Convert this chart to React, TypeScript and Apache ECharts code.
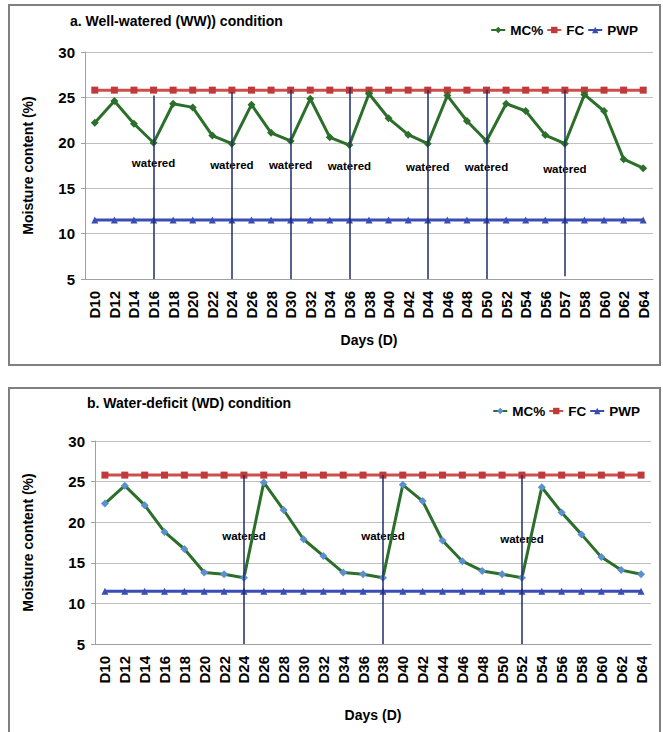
import React, { useEffect, useRef } from "react";
import * as echarts from "echarts";

// ---------- DATA ----------
const daysWW = ["D10","D12","D14","D16","D18","D20","D22","D24","D26","D28","D30","D32","D34","D36","D38","D40","D42","D44","D46","D48","D50","D52","D54","D56","D57","D58","D60","D62","D64"];
const mcWW = [22.2,24.6,22.1,20.0,24.3,23.9,20.8,19.9,24.2,21.1,20.2,24.85,20.6,19.75,25.4,22.7,20.9,19.9,25.2,22.4,20.2,24.3,23.5,20.85,19.9,25.3,23.5,18.2,17.2];
const fcWW = [25.8,25.8,25.8,25.8,25.8,25.8,25.8,25.8,25.8,25.8,25.8,25.8,25.8,25.8,25.8,25.8,25.8,25.8,25.8,25.8,25.8,25.8,25.8,25.8,25.8,25.8,25.8,25.8,25.8];
const pwpWW = [11.5,11.5,11.5,11.5,11.5,11.5,11.5,11.5,11.5,11.5,11.5,11.5,11.5,11.5,11.5,11.5,11.5,11.5,11.5,11.5,11.5,11.5,11.5,11.5,11.5,11.5,11.5,11.5,11.5];
const wateredWW = ["D16","D24","D30","D36","D44","D50","D57"];
const wateredWWTop = [25.2,25.6,25.85,26.1,25.85,25.85,25.85];
const wateredWWBottom = [5,5,5,5,5,5,5.3];
const wateredWWLabelY = [17.8,17.6,17.6,17.5,17.3,17.3,17.1];

const daysWD = ["D10","D12","D14","D16","D18","D20","D22","D24","D26","D28","D30","D32","D34","D36","D38","D40","D42","D44","D46","D48","D50","D52","D54","D56","D58","D60","D62","D64"];
const mcWD = [22.3,24.5,22.1,18.8,16.7,13.8,13.6,13.15,24.9,21.5,17.9,15.85,13.8,13.6,13.15,24.6,22.6,17.75,15.2,14.0,13.6,13.15,24.3,21.2,18.5,15.7,14.1,13.6];
const fcWD = [25.8,25.8,25.8,25.8,25.8,25.8,25.8,25.8,25.8,25.8,25.8,25.8,25.8,25.8,25.8,25.8,25.8,25.8,25.8,25.8,25.8,25.8,25.8,25.8,25.8,25.8,25.8,25.8];
const pwpWD = [11.5,11.5,11.5,11.5,11.5,11.5,11.5,11.5,11.5,11.5,11.5,11.5,11.5,11.5,11.5,11.5,11.5,11.5,11.5,11.5,11.5,11.5,11.5,11.5,11.5,11.5,11.5,11.5];
const wateredWD = ["D24","D38","D52"];
const wateredWDTop = [25.8,25.8,25.8];
const wateredWDBottom = [5,5,5];
const wateredWDLabelY = [18.3,18.3,17.9];

const yTicks = [5, 10, 15, 20, 25, 30];
const titleWW = "a. Well-watered (WW)) condition";
const titleWD = "b. Water-deficit (WD) condition";
const yName = "Moisture content (%)";
const xName = "Days (D)";
const wateredText = "watered";

// ---------- STYLE ----------
const FONT = "'Liberation Sans', Arial, Helvetica, sans-serif";
const GREEN = "#2b6f2b";
const RED_LINE = "#cc4f4c";
const RED_MARK = "#c0393b";
const BLUE = "#3a4db3";
const LIGHT_BLUE = "#5b8fd0";
const NAVY = "#1f2d6b";
const GRID_C = "#c0c0c0";
const AXIS_C = "#a0a0a0";

export default function App() {
  const ref = useRef<HTMLDivElement>(null);

  useEffect(() => {
    if (!ref.current) return;
    const chart = echarts.init(ref.current, null, { renderer: "svg" });

    const xAxisBase = (idx: number, data: string[], nameGap: number) => ({
      type: "category",
      gridIndex: idx,
      data,
      boundaryGap: true,
      axisLine: { show: true, lineStyle: { color: AXIS_C, width: 1 } },
      axisTick: { show: false },
      axisLabel: {
        interval: 0,
        rotate: 90,
        margin: 12,
        color: "#000",
        fontWeight: "bold",
        fontSize: 15,
        fontFamily: FONT,
      },
      splitLine: { show: false },
      name: xName,
      nameLocation: "middle",
      nameGap,
      nameTextStyle: { color: "#000", fontWeight: "bold", fontSize: 14, fontFamily: FONT },
    });

    const yAxisBase = (idx: number, nameGap: number) => ({
      type: "value",
      gridIndex: idx,
      min: yTicks[0],
      max: yTicks[yTicks.length - 1],
      interval: 5,
      axisLine: { show: true, lineStyle: { color: AXIS_C, width: 1 } },
      axisTick: { show: true, length: 4, lineStyle: { color: AXIS_C } },
      axisLabel: {
        margin: 10,
        color: "#000",
        fontWeight: "bold",
        fontSize: 15,
        fontFamily: FONT,
      },
      splitLine: { show: true, lineStyle: { color: GRID_C, width: 1 } },
      name: yName,
      nameLocation: "middle",
      nameGap,
      nameRotate: 90,
      nameTextStyle: { color: "#000", fontWeight: "bold", fontSize: 14, fontFamily: FONT },
    });

    const mcSeries = (idx: number, data: number[], markColor: string) => ({
      name: "MC%",
      type: "line",
      xAxisIndex: idx,
      yAxisIndex: idx,
      data,
      symbol: "diamond",
      symbolSize: 8,
      showSymbol: true,
      lineStyle: { color: GREEN, width: 3 },
      itemStyle: { color: markColor },
      z: 4,
    });
    const fcSeries = (idx: number, data: number[]) => ({
      name: "FC",
      type: "line",
      xAxisIndex: idx,
      yAxisIndex: idx,
      data,
      symbol: "rect",
      symbolSize: 7,
      lineStyle: { color: RED_LINE, width: 3 },
      itemStyle: { color: RED_MARK },
      z: 3,
    });
    const pwpSeries = (idx: number, data: number[]) => ({
      name: "PWP",
      type: "line",
      xAxisIndex: idx,
      yAxisIndex: idx,
      data,
      symbol: "triangle",
      symbolSize: 7,
      lineStyle: { color: BLUE, width: 3 },
      itemStyle: { color: BLUE },
      z: 3,
    });
    const wateredLines = (idx: number, cats: string[], bottoms: number[], tops: number[]) => ({
      name: "wateredLines" + idx,
      type: "line",
      xAxisIndex: idx,
      yAxisIndex: idx,
      data: [],
      clip: false,
      z: 6,
      markLine: {
        silent: true,
        symbol: ["none", "none"],
        label: { show: false },
        lineStyle: { color: NAVY, width: 1.5, type: "solid" },
        emphasis: { disabled: true },
        data: cats.map((c, i) => [{ coord: [c, bottoms[i]] }, { coord: [c, tops[i]] }]),
      },
    });
    const wateredLabels = (idx: number, cats: string[], ys: number[]) => ({
      name: "wateredLabels" + idx,
      type: "scatter",
      xAxisIndex: idx,
      yAxisIndex: idx,
      data: cats.map((c, i) => [c, ys[i]]),
      symbolSize: 2,
      itemStyle: { color: "rgba(255,255,255,0)" },
      silent: true,
      z: 2,
      label: {
        show: true,
        position: "inside",
        formatter: wateredText,
        color: "#000",
        opacity: 1,
        textBorderWidth: 0,
        fontWeight: "bold",
        fontSize: 11.5,
        fontFamily: FONT,
      },
      labelLayout: { hideOverlap: false },
    });

    const legendText = { color: "#000", fontWeight: "bold", fontSize: 13.5, fontFamily: FONT };

    chart.setOption({
      animation: false,
      backgroundColor: "#fff",
      graphic: [
        { type: "rect", shape: { x: 9, y: 5, width: 651, height: 360 }, style: { fill: "none", stroke: "#808080", lineWidth: 2 }, silent: true },
        { type: "rect", shape: { x: 9, y: 388, width: 651, height: 360 }, style: { fill: "none", stroke: "#808080", lineWidth: 2 }, silent: true },
      ],
      title: [
        { text: titleWW, left: 70, top: 14, padding: 0, textStyle: { color: "#000", fontWeight: "bold", fontSize: 14, fontFamily: FONT } },
        { text: titleWD, left: 87, top: 396, padding: 0, textStyle: { color: "#000", fontWeight: "bold", fontSize: 14, fontFamily: FONT } },
      ],
      legend: [
        {
          right: 25, top: 23, padding: 0, itemGap: 3, itemWidth: 14, itemHeight: 8,
          textStyle: legendText,
          data: [{ name: "MC%" }, { name: "FC" }, { name: "PWP" }],
          selectedMode: false,
        },
        {
          right: 23, top: 404, padding: 0, itemGap: 3, itemWidth: 14, itemHeight: 8,
          textStyle: legendText,
          data: [
            { name: "MC%", itemStyle: { color: LIGHT_BLUE }, lineStyle: { color: GREEN } },
            { name: "FC" },
            { name: "PWP" },
          ],
          selectedMode: false,
        },
      ],
      grid: [
        { left: 85, top: 52, width: 568, height: 227 },
        { left: 95, top: 441, width: 556, height: 203 },
      ],
      xAxis: [xAxisBase(0, daysWW, 54), xAxisBase(1, daysWD, 64)],
      yAxis: [yAxisBase(0, 50), yAxisBase(1, 60)],
      series: [
        wateredLabels(0, wateredWW, wateredWWLabelY),
        fcSeries(0, fcWW),
        pwpSeries(0, pwpWW),
        mcSeries(0, mcWW, GREEN),
        wateredLines(0, wateredWW, wateredWWBottom, wateredWWTop),
        wateredLabels(1, wateredWD, wateredWDLabelY),
        fcSeries(1, fcWD),
        pwpSeries(1, pwpWD),
        mcSeries(1, mcWD, LIGHT_BLUE),
        wateredLines(1, wateredWD, wateredWDBottom, wateredWDTop),
      ],
    });

    return () => chart.dispose();
  }, []);

  return (
    <div
      ref={ref}
      style={{ position: "absolute", left: 0, top: 0, width: 663, height: 732 }}
    />
  );
}
